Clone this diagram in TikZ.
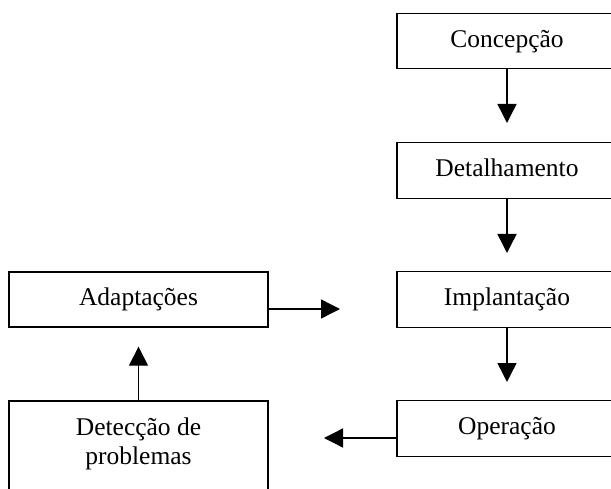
\documentclass[tikz,border=0pt]{standalone}
\usepackage{fontspec}
\setmainfont{Liberation Serif}
\usetikzlibrary{arrows.meta}
\begin{document}
\begin{tikzpicture}[x=1pt,y=-1pt,
  txt/.style={font=\fontsize{25.5pt}{28.5pt}\selectfont},
  box/.style={txt, draw, line width=1.4pt, rectangle, inner sep=0pt, text height=19pt, text depth=6.4pt},
  rbox/.style={box, minimum width=220pt, minimum height=55.5pt},
  lbox/.style={box, minimum width=259pt, minimum height=55pt},
  conn/.style={line width=1.4pt, -{Triangle[length=19pt,width=19pt]}}]
\useasboundingbox (0,0) rectangle (611,489);
\clip (0,0) rectangle (611,489);
\node[rbox] (con) at (507,41) {Concepção};
\node[rbox] (det) at (507,170.5) {Detalhamento};
\node[rbox] (imp) at (507,299.5) {Implantação};
\node[rbox] (ope) at (507,428.5) {Operação};
\node[lbox] (ada) at (138.5,299.5) {Adaptações};
\node[lbox, minimum height=140pt] (dp) at (138.5,471) {};
\node[txt, align=center, inner sep=0pt] (dptxt) at (138.5,444) {Detecção de\\problemas};
\coordinate (t1) at (507,123);
\coordinate (t2) at (507,253);
\coordinate (t3) at (507,382);
\coordinate (t4) at (324,438);
\coordinate (t5) at (138.5,346.7);
\coordinate (t6) at (340,309);
\draw[conn] (con.south) -- (t1);
\draw[conn] (det.south) -- (t2);
\draw[conn] (imp.south) -- (t3);
\draw[conn] (ope.west |- t4) -- (t4);
\draw[conn] (dp.north) -- (t5);
\draw[conn] (ada.east |- t6) -- (t6);
\end{tikzpicture}
\end{document}
